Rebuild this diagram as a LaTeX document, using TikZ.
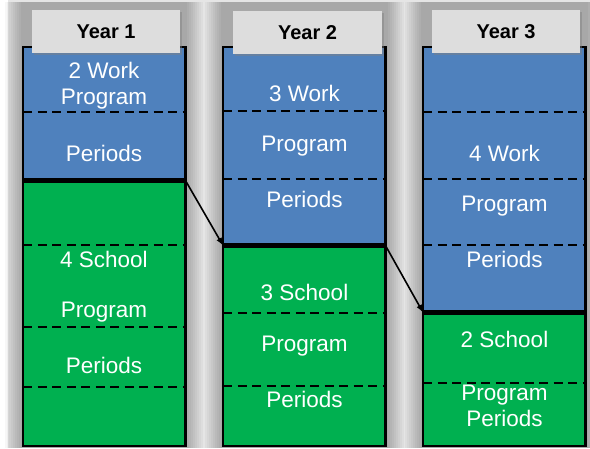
\documentclass[tikz,border=0pt]{standalone}
\usepackage{fontspec}
\setmainfont{Liberation Sans}
\usetikzlibrary{calc,positioning,arrows,shadows}

\definecolor{workblue}{HTML}{4F81BD}
\definecolor{schoolgreen}{HTML}{00B050}
\definecolor{tabgray}{HTML}{DDDDDD}

\tikzset{
  work/.style={fill=workblue, inner sep=0pt, minimum width=162pt, anchor=north west},
  school/.style={fill=schoolgreen, inner sep=0pt, minimum width=162pt, anchor=north west},
  frame/.style={draw=black, line width=2.2pt},
  divider/.style={draw=black, line width=5.5pt},
  dashline/.style={draw=black, line width=1.6pt, dash pattern=on 9pt off 5.5pt},
  tab/.style={fill=tabgray, minimum width=148pt, minimum height=43pt, inner sep=0pt,
    font=\fontsize{20}{23}\selectfont\bfseries,
    drop shadow={shadow xshift=1.5pt, shadow yshift=-1.5pt, opacity=0.45}},
  lbl/.style={text=white, align=center, inner sep=0pt, font=\fontsize{22.5}{26}\selectfont},
  move/.style={->, >=latex, line width=1.6pt}
}

\begin{document}
\begin{tikzpicture}[x=1pt,y=-1pt]
        \useasboundingbox (0,0) rectangle (590,448);
        \fill[white] (0,0) rectangle (590,448);

        %%backdrop
        \fill[black, opacity=0.1] (8,0) rectangle (590,448);
        \foreach \l/\r in {23/185, 223/386, 423/586}
            \foreach \d in {2,4,...,18}
                \fill[black, opacity=0.03] (\l-\d,2) rectangle (\r+\d,448);

        %%year 1
        \node[work, minimum height=133pt] (w1) at (23,47) {};
        \node[school, minimum height=265pt] (s1) at (w1.south west) {};
            \draw[dashline] (23,112) -- (185,112);
            \draw[dashline] (23,245) -- (185,245);
            \draw[dashline] (23,327) -- (185,327);
            \draw[dashline] (23,387) -- (185,387);
        \draw[frame] (w1.north west) rectangle (s1.south east);
        \draw[divider] (s1.north west) -- (s1.north east);
            \node[lbl] (w1a) at (104,86) {2 Work\\Program};
            \node[lbl] (w1b) at (104,153) {Periods};
            \node[lbl] (s1a) at (104,259) {4 School};
            \node[lbl] (s1b) at (104,312) {Program};
            \node[lbl] (s1c) at (104,365) {Periods};

        %%year 2
        \node[work, minimum height=198pt] (w2) at (223,47) {};
        \node[school, minimum height=200pt] (s2) at (w2.south west) {};
            \draw[dashline] (223,111) -- (386,111);
            \draw[dashline] (223,179) -- (386,179);
            \draw[dashline] (223,313) -- (386,313);
            \draw[dashline] (223,386) -- (386,386);
        \draw[frame] (w2.north west) rectangle (s2.south east);
        \draw[divider] (s2.north west) -- (s2.north east);
            \node[lbl] (w2a) at (304.5,93) {3 Work};
            \node[lbl] (w2b) at (304.5,146) {Program};
            \node[lbl] (w2c) at (304.5,199) {Periods};
            \node[lbl] (s2a) at (304.5,292) {3 School};
            \node[lbl] (s2b) at (304.5,346) {Program};
            \node[lbl] (s2c) at (304.5,399) {Periods};

        %%year 3
        \node[work, minimum height=265pt] (w3) at (423,47) {};
        \node[school, minimum height=133pt] (s3) at (w3.south west) {};
            \draw[dashline] (423,112) -- (586,112);
            \draw[dashline] (423,179) -- (586,179);
            \draw[dashline] (423,245) -- (586,245);
            \draw[dashline] (423,383) -- (586,383);
        \draw[frame] (w3.north west) rectangle (s3.south east);
        \draw[divider] (s3.north west) -- (s3.north east);
            \node[lbl] (w3a) at (504.5,153) {4 Work};
            \node[lbl] (w3b) at (504.5,206) {Program};
            \node[lbl] (w3c) at (504.5,259) {Periods};
            \node[lbl] (s3a) at (504.5,339) {2 School};
            \node[lbl] (s3b) at (504.5,405.5) {Program\\Periods};

        %%shift arrows
        \draw[move] (s1.north east) -- (s2.north west);
        \draw[move] (s2.north east) -- (s3.north west);

        %%headers
        \node[tab] (y1) at (106,31.5) {Year 1};
        \node[tab, minimum width=149pt] (y2) at (307.5,32.5) {Year 2};
        \node[tab] (y3) at (506,31.5) {Year 3};
\end{tikzpicture}
\end{document}
